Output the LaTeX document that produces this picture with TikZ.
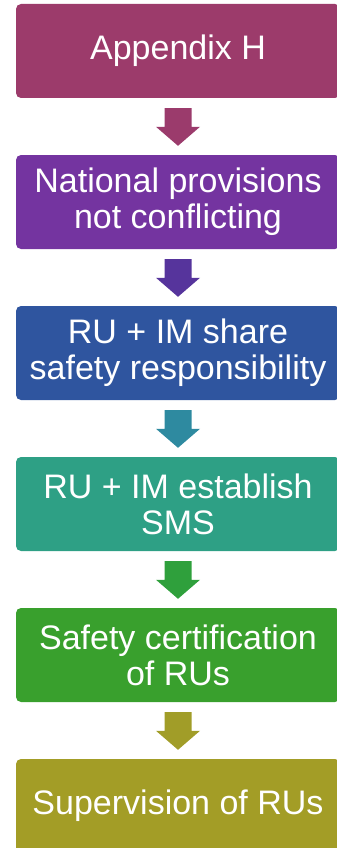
\documentclass[tikz,border=0pt]{standalone}
\usepackage{fontspec}
\setmainfont{Liberation Sans}
\usetikzlibrary{positioning,calc}

\definecolor{appendixcol}{HTML}{9C3B6B}
\definecolor{nationalcol}{HTML}{7434A0}
\definecolor{sharecol}{HTML}{2F559F}
\definecolor{smscol}{HTML}{2EA085}
\definecolor{certcol}{HTML}{39A02D}
\definecolor{supervcol}{HTML}{A39D26}
\definecolor{arrowa}{HTML}{9B3B6C}
\definecolor{arrowb}{HTML}{56349C}
\definecolor{arrowc}{HTML}{2E8AA0}
\definecolor{arrowd}{HTML}{2FA03C}
\definecolor{arrowe}{HTML}{A19D28}

\tikzset{
    stepbox/.style={rectangle, rounded corners=5pt, inner sep=0pt,
        minimum width=324pt, minimum height=94pt,
        text=white, align=center, font=\fontsize{34}{36}\selectfont},
}

\begin{document}
\begin{tikzpicture}
\clip (0,0) rectangle (337pt,-848pt);

\node[stepbox, fill=appendixcol] (appendix) at (178pt,-51pt) {Appendix H};
\node[stepbox, fill=nationalcol, below=56.6pt of appendix] (national) {National provisions\\not conflicting};
\node[stepbox, fill=sharecol, below=56.6pt of national] (share) {RU + IM share\\safety responsibility};
\node[stepbox, fill=smscol, below=56.6pt of share] (sms) {RU + IM establish\\SMS};
\node[stepbox, fill=certcol, below=56.6pt of sms] (cert) {Safety certification\\of RUs};
\node[stepbox, fill=supervcol, below=56.6pt of cert] (superv) {Supervision of RUs};

% block arrows
\fill[arrowa] ($(appendix.south)+(-13.5pt,-10pt)$) -- ($(appendix.south)+(13.5pt,-10pt)$)
    -- ($(national.north)+(13.5pt,28pt)$) -- ($(national.north)+(22pt,28pt)$)
    -- ($(national.north)+(0,9pt)$) -- ($(national.north)+(-22pt,28pt)$)
    -- ($(national.north)+(-13.5pt,28pt)$) -- cycle;
\fill[arrowb] ($(national.south)+(-13.5pt,-10pt)$) -- ($(national.south)+(13.5pt,-10pt)$)
    -- ($(share.north)+(13.5pt,28pt)$) -- ($(share.north)+(22pt,28pt)$)
    -- ($(share.north)+(0,9pt)$) -- ($(share.north)+(-22pt,28pt)$)
    -- ($(share.north)+(-13.5pt,28pt)$) -- cycle;
\fill[arrowc] ($(share.south)+(-13.5pt,-10pt)$) -- ($(share.south)+(13.5pt,-10pt)$)
    -- ($(sms.north)+(13.5pt,28pt)$) -- ($(sms.north)+(22pt,28pt)$)
    -- ($(sms.north)+(0,9pt)$) -- ($(sms.north)+(-22pt,28pt)$)
    -- ($(sms.north)+(-13.5pt,28pt)$) -- cycle;
\fill[arrowd] ($(sms.south)+(-13.5pt,-10pt)$) -- ($(sms.south)+(13.5pt,-10pt)$)
    -- ($(cert.north)+(13.5pt,28pt)$) -- ($(cert.north)+(22pt,28pt)$)
    -- ($(cert.north)+(0,9pt)$) -- ($(cert.north)+(-22pt,28pt)$)
    -- ($(cert.north)+(-13.5pt,28pt)$) -- cycle;
\fill[arrowe] ($(cert.south)+(-13.5pt,-10pt)$) -- ($(cert.south)+(13.5pt,-10pt)$)
    -- ($(superv.north)+(13.5pt,28pt)$) -- ($(superv.north)+(22pt,28pt)$)
    -- ($(superv.north)+(0,9pt)$) -- ($(superv.north)+(-22pt,28pt)$)
    -- ($(superv.north)+(-13.5pt,28pt)$) -- cycle;
\end{tikzpicture}
\end{document}
